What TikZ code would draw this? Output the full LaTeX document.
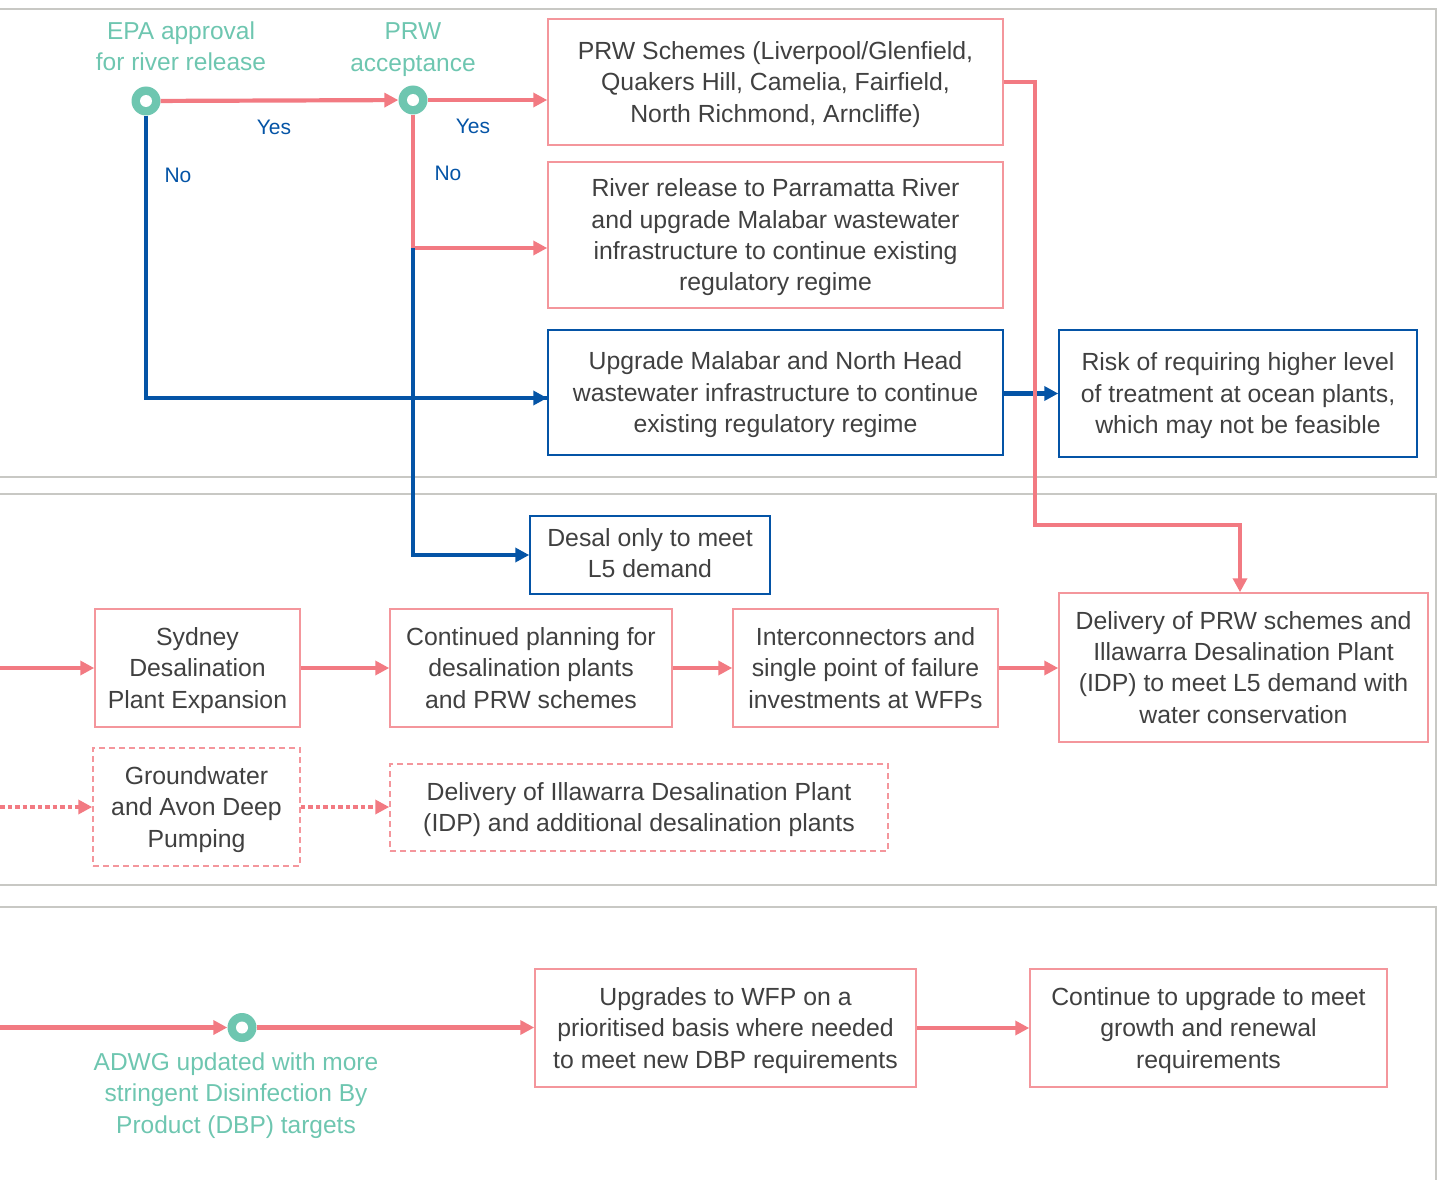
\documentclass[tikz,border=0pt]{standalone}
\usepackage{fontspec}
\setmainfont{Liberation Sans}
\usetikzlibrary{arrows.meta}
\definecolor{pinkln}{RGB}{242,122,130}
\definecolor{pinkbox}{RGB}{244,150,156}
\definecolor{blueln}{RGB}{4,84,166}
\definecolor{tealc}{RGB}{110,198,176}
\definecolor{txt}{RGB}{64,64,64}
\definecolor{panel}{RGB}{200,200,196}
\newcommand\topstrut{\rule{0pt}{23.5pt}}
\newcommand\botstrut{\rule[-6pt]{0pt}{0pt}}
\tikzset{
  pbox/.style={draw=pinkbox, line width=1.5pt, align=center, text=txt, inner sep=0pt,
    font=\fontsize{24.8}{31.3}\selectfont, execute at end node=\botstrut},
  pdbox/.style={pbox, dash pattern=on 6pt off 4pt},
  bbox/.style={pbox, draw=blueln},
  parrow/.style={draw=pinkln, line width=4.2pt, -{Triangle[length=14pt,width=14pt]}},
  pline/.style={draw=pinkln, line width=4.2pt},
  pdot/.style={parrow, dash pattern=on 4.5pt off 3pt},
  barrow/.style={draw=blueln, line width=4.2pt, -{Triangle[length=14pt,width=14pt]}},
  bline/.style={draw=blueln, line width=4.2pt},
  decision/.style={circle, fill=tealc, minimum size=29pt, inner sep=0pt},
  tlabel/.style={text=tealc, align=center, font=\fontsize{24.5}{31.3}\selectfont},
  yn/.style={text=blueln, font=\fontsize{21}{25}\selectfont},
  panelln/.style={draw=panel, line width=1.6pt}
}
\begin{document}
\begin{tikzpicture}[x=1pt,y=-1pt]
\useasboundingbox (0,0) rectangle (1437,1180);
% panels
\draw[panelln] (0,9) -- (1436,9) -- (1436,477) -- (0,477);
\draw[panelln] (0,494) -- (1436,494) -- (1436,885) -- (0,885);
\draw[panelln] (0,907) -- (1436,907) -- (1436,1190);

% decisions
\node[decision] (epa) at (146,101) {};
\node[decision] (prw) at (413,100) {};
\node[decision] (adwg) at (242,1027.5) {};
\node[tlabel] (epal) at (181,46.5) {EPA approval\\for river release};
\node[tlabel] (prwl) at (413,49.5) {PRW\\acceptance};
\node[tlabel] (adwgl) at (236,1095.5) {ADWG updated with more\\stringent Disinfection By\\Product (DBP) targets};

% boxes
\node[pbox, minimum width=455pt, minimum height=126pt] (b1) at (775.5,82) {\topstrut PRW Schemes (Liverpool/Glenfield,\\Quakers Hill, Camelia, Fairfield,\\North Richmond, Arncliffe)};
\node[pbox, minimum width=455pt, minimum height=146pt] (b2) at (775.5,235) {\topstrut River release to Parramatta River\\and upgrade Malabar wastewater\\infrastructure to continue existing\\regulatory regime};
\node[bbox, minimum width=455pt, minimum height=125pt] (b3) at (775.5,392.5) {\topstrut Upgrade Malabar and North Head\\wastewater infrastructure to continue\\existing regulatory regime};
\node[bbox, minimum width=358pt, minimum height=127pt] (b4) at (1238,393.5) {\topstrut Risk of requiring higher level\\of treatment at ocean plants,\\which may not be feasible};
\node[bbox, minimum width=240pt, minimum height=78pt] (desal) at (650,555) {\rule{0pt}{19.5pt}Desal only to meet\\L5 demand};
\node[pbox, minimum width=369pt, minimum height=149pt] (b5) at (1243.5,667.5) {\topstrut Delivery of PRW schemes and\\Illawarra Desalination Plant\\(IDP) to meet L5 demand with\\water conservation};
\node[pbox, minimum width=205pt, minimum height=118pt] (syd) at (197.5,668) {\topstrut Sydney\\Desalination\\Plant Expansion};
\node[pbox, minimum width=282pt, minimum height=118pt] (cont) at (531,668) {\topstrut Continued planning for\\desalination plants\\and PRW schemes};
\node[pbox, minimum width=265pt, minimum height=118pt] (inter) at (865.5,668) {\topstrut Interconnectors and\\single point of failure\\investments at WFPs};
\node[pdbox, minimum width=207pt, minimum height=118pt] (gw) at (196.5,807) {\topstrut Groundwater\\and Avon Deep\\Pumping};
\node[pdbox, minimum width=498pt, minimum height=87pt] (idp) at (639,807.5) {\topstrut Delivery of Illawarra Desalination Plant\\(IDP) and additional desalination plants};
\node[pbox, minimum width=381pt, minimum height=118pt] (upg) at (725.5,1028) {\topstrut Upgrades to WFP on a\\prioritised basis where needed\\to meet new DBP requirements};
\node[pbox, minimum width=357pt, minimum height=118pt] (cont2) at (1208.5,1028) {\topstrut Continue to upgrade to meet\\growth and renewal\\requirements};

% free ends / junctions
\coordinate (j) at (413,248);
\coordinate (k1) at (1035,525);
\coordinate (s2) at (0,668);
\coordinate (s3) at (0,807);
\coordinate (s4) at (0,1027.5);

% top connectors
\draw[bline] (epa) |- ([yshift=-5.5pt]b3.west) coordinate (b3in);
\draw[barrow] ([xshift=-20pt]b3in) -- (b3in);
\draw[pline] (prw) -- (j);
\draw[parrow] (j) -- (j -| b2.west);
\draw[barrow] (j) |- (desal.west);
\draw[parrow] (epa) -- (prw);
\draw[parrow] (prw) -- (prw -| b1.west);
\draw[barrow] (b3.east |- b4.west) -- (b4.west);
\draw[parrow] (b1.east) -| (k1) -| ([xshift=-3.5pt]b5.north);

% rows
\draw[parrow] (s2) -- (syd);
\draw[parrow] (syd) -- (cont);
\draw[parrow] (cont) -- (inter);
\draw[parrow] (inter.east) -- (inter.east -| b5.west);
\draw[pdot] (s3) -- (gw);
\draw[pdot] (gw.east) -- (gw.east -| idp.west);
\draw[parrow] (s4) -- (adwg);
\draw[parrow] (adwg) -- (adwg -| upg.west);
\draw[parrow] (upg) -- (cont2);

% decision centres
\fill[white] (epa.center) circle (6);
\fill[white] (prw.center) circle (6);
\fill[white] (adwg.center) circle (6);

% yes / no
\node[yn] (y1) at (274,127) {Yes};
\node[yn] (y2) at (473,126) {Yes};
\node[yn] (n1) at (178,175) {No};
\node[yn] (n2) at (448,173) {No};
\end{tikzpicture}
\end{document}
